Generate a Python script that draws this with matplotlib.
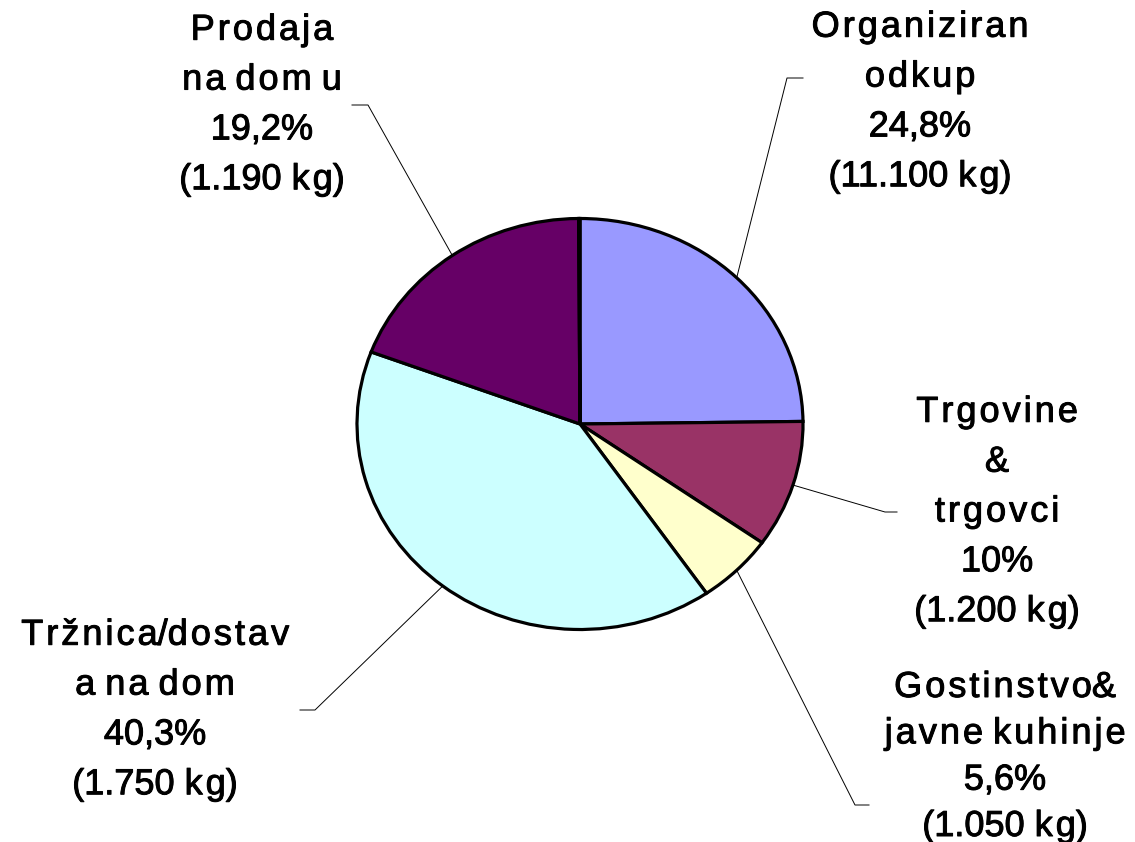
import numpy as np
import matplotlib
matplotlib.use("Agg")
import matplotlib.pyplot as plt
import matplotlib.patheffects as pe

# ---- data ----
labels = ["Organiziran\nodkup", "Trgovine\n&\ntrgovci", "Gostinstvo&\njavne kuhinje",
          "Tržnica/dostav\na na dom", "Prodaja\nna dom u"]
pct_text = ["24,8%", "10%", "5,6%", "40,3%", "19,2%"]
kg_text = ["(11.100 kg)", "(1.200 kg)", "(1.050 kg)", "(1.750 kg)", "(1.190 kg)"]
values = [24.8, 10.0, 5.6, 40.3, 19.2]
rest = [0.1]  # unlabelled remainder (thin sliver at top)
colors = ["#9999FF", "#993366", "#FFFFCC", "#CCFFFF", "#660066"]

# ---- layout (pixels, origin top-left) ----
W, H = 1135, 842
cx, cy = 580, 424
rx, ry = 223, 205.5
label_px = [(920, 102), (997, 512), (1005, 757), (155, 710), (262, 105)]
line_sp = [1.55, 1.55, 1.42, 1.55, 1.55]
elbow_px = [(787, 78), (885, 512), (855, 805), (315, 710), (368, 105)]
end_px = [(803, 78), (897, 512), (869, 805), (300, 710), (352, 105)]

HAIR = "\u200a"

def spaced(s):
    out = ""
    for i, ch in enumerate(s):
        out += ch
        if i + 1 < len(s) and ch.isalpha() and s[i + 1].isalpha():
            out += HAIR
    return out

def to_data(p):
    return ((p[0] - cx) / rx, (cy - p[1]) / ry)

fig = plt.figure(figsize=(W / 100, H / 100), dpi=100)
ax = fig.add_axes([0, 0, 1, 1])
wedges, _ = ax.pie(values + rest, colors=colors + ["#000000"], startangle=90,
                   counterclock=False,
                   wedgeprops=dict(edgecolor="black", linewidth=2.3))
ax.set_aspect("auto")
ax.set_xlim(-cx / rx, (W - cx) / rx)
ax.set_ylim(-(H - cy) / ry, cy / ry)
ax.axis("off")

for i, w in enumerate(wedges[:len(values)]):
    mid = np.deg2rad((w.theta1 + w.theta2) / 2)
    ax0, ay0 = np.cos(mid), np.sin(mid)
    ex, ey = to_data(elbow_px[i])
    tx, ty = to_data(end_px[i])
    ax.plot([ax0, ex, tx], [ay0, ey, ty], color="black", lw=0.7)
    lx, ly = to_data(label_px[i])
    txt = spaced(f"{labels[i]}\n{pct_text[i]}\n{kg_text[i]}")
    ax.text(lx, ly, txt, ha="center", va="center",
            fontsize=26, family=["Liberation Sans", "DejaVu Sans"],
            linespacing=line_sp[i],
            path_effects=[pe.withStroke(linewidth=0.7, foreground="black")])

fig.savefig("out.png", dpi=100)
